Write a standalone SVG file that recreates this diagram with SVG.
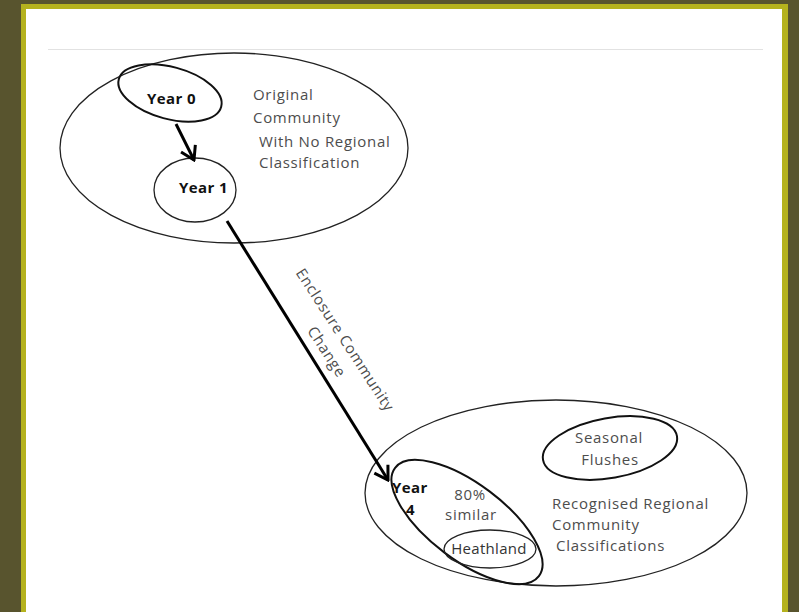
<svg xmlns="http://www.w3.org/2000/svg" width="799" height="612" viewBox="0 0 799 612">
<style>
.ell{fill:none;stroke:#222;stroke-width:1.3}
.ellb{fill:none;stroke:#111;stroke-width:2}
.lbl{font-family:"Open Sans","Liberation Sans",sans-serif;font-size:15px;letter-spacing:0.7px;fill:#4d4d4d}
.bold{font-family:"Open Sans","Liberation Sans",sans-serif;font-size:15px;letter-spacing:0.4px;font-weight:bold;fill:#111}
.conn{stroke:#000;stroke-width:3;fill:none}
</style>
<defs>
<marker id="arr" viewBox="-16 -10 18 20" markerWidth="18" markerHeight="20" refX="0" refY="0" orient="auto" markerUnits="userSpaceOnUse">
<path d="M-13,-8 L0,0 L-13,8" fill="none" stroke="#000" stroke-width="3" stroke-linejoin="miter"/>
</marker>
</defs>
<rect x="0" y="0" width="799" height="612" fill="#58542e"/>
<rect x="21" y="4" width="767" height="620" fill="#b5b21e"/>
<rect x="26" y="9" width="756" height="620" fill="#ffffff"/>
<line x1="48" y1="49.5" x2="763" y2="49.5" stroke="#e2e2e2" stroke-width="1"/>

<g id="original-community">
<ellipse class="ell" cx="234" cy="148" rx="174" ry="95"/>
<text class="lbl" x="253" y="100">Original</text>
<text class="lbl" x="253" y="123">Community</text>
<text class="lbl" x="259" y="147">With No Regional</text>
<text class="lbl" x="259" y="168">Classification</text>
</g>
<g id="year0">
<ellipse class="ellb" cx="170" cy="93" rx="53" ry="26" transform="rotate(15 170 93)"/>
<text class="bold" x="147" y="104">Year 0</text>
</g>
<g id="year1">
<ellipse class="ell" cx="195" cy="190" rx="41" ry="32"/>
<text class="bold" x="179" y="193">Year 1</text>
</g>

<g id="regional">
<ellipse class="ell" cx="556" cy="493" rx="191" ry="93"/>
<text class="lbl" x="552" y="509">Recognised Regional</text>
<text class="lbl" x="552" y="530">Community</text>
<text class="lbl" x="556" y="551">Classifications</text>
</g>
<g id="seasonal-flushes">
<ellipse class="ellb" cx="610" cy="448" rx="68" ry="30" transform="rotate(-10 610 448)"/>
<text class="lbl" x="609" y="443" text-anchor="middle">Seasonal</text>
<text class="lbl" x="610" y="465" text-anchor="middle">Flushes</text>
</g>
<g id="year4">
<ellipse class="ellb" cx="467" cy="522" rx="90" ry="38" transform="rotate(37 467 522)"/>
<text class="bold" x="392" y="493">Year</text>
<text class="bold" x="406" y="515">4</text>
<text class="lbl" x="470" y="500" text-anchor="middle">80%</text>
<text class="lbl" x="471" y="520" text-anchor="middle">similar</text>
</g>
<g id="heathland">
<ellipse class="ell" cx="490" cy="549" rx="46" ry="19"/>
<text class="lbl" x="489" y="554" text-anchor="middle" style="fill:#333;letter-spacing:0.3px">Heathland</text>
</g>

<g id="connectors">
<line class="conn" x1="176" y1="124" x2="194" y2="160" marker-end="url(#arr)"/>
<line class="conn" x1="227" y1="221" x2="388" y2="480" marker-end="url(#arr)"/>
<g transform="translate(345 340) rotate(57)">
<text class="lbl" x="0" y="5" text-anchor="middle">Enclosure Community</text>
<text class="lbl" x="0" y="27" text-anchor="middle">Change</text>
</g>
</g>
</svg>
